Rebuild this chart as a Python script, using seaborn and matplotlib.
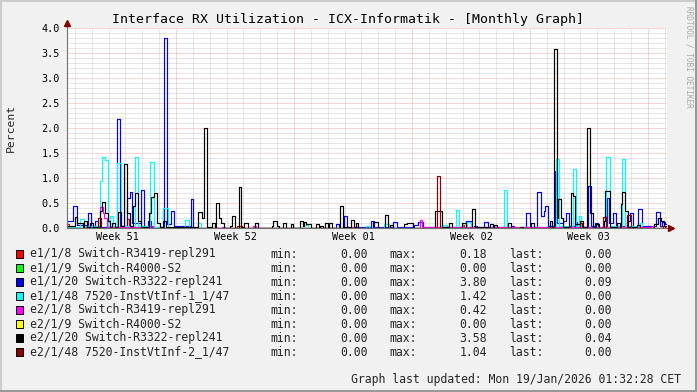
import numpy as np
import pandas as pd
import matplotlib
matplotlib.use("Agg")
import matplotlib.pyplot as plt
import seaborn as sns
from matplotlib.patches import Rectangle
from matplotlib.lines import Line2D

# ---------------- data (sample index, value); one sample = 1.424 h ----------------
STEP_H = 1.424
N_SAMPLES = 600
FIRST_WEEK_SAMPLE = 109
WEEK_LABELS = ["Week 51", "Week 52", "Week 01", "Week 02", "Week 03"]

NAMES = ["e1/1/8 Switch-R3419-repl291", "e1/1/9 Switch-R4000-S2",
         "e1/1/20 Switch-R3322-repl241", "e1/1/48 7520-InstVtInf-1_1/47",
         "e2/1/8 Switch-R3419-repl291", "e2/1/9 Switch-R4000-S2",
         "e2/1/20 Switch-R3322-repl241", "e2/1/48 7520-InstVtInf-2_1/47"]
COLORS = ["#FF0000", "#00FF00", "#0000FF", "#00FFFF",
          "#FF00FF", "#FFFF00", "#000000", "#8F0000"]
MINS = ["0.00"] * 8
MAXS = ["0.18", "0.00", "3.80", "1.42", "0.42", "0.00", "3.58", "1.04"]
LASTS = ["0.00", "0.00", "0.09", "0.00", "0.00", "0.00", "0.04", "0.00"]

RED = [(0, 0.08), (2, 0.0), (60, 0.18), (62, 0.0), (170, 0.04), (175, 0.0),
       (395, 0.06), (397, 0.0), (581, 0.05), (584, 0.0)]
GREEN = [(0, 0.0)]
BLUE = [(0, 0.15), (6, 0.45), (10, 0.06), (19, 0.02), (21, 0.3), (24, 0.02), (28, 0.15),
        (31, 0.02), (50, 2.18), (53, 0.05), (60, 0.6), (63, 0.73), (65, 0.1), (74, 0.76),
        (77, 0.05), (81, 0.15), (84, 0.03), (97, 3.8), (100, 0.08), (104, 0.35), (107, 0.05),
        (124, 0.58), (126, 0.0), (269, 0.08), (272, 0.0), (277, 0.25), (280, 0.02),
        (304, 0.15), (307, 0.02), (326, 0.12), (330, 0.02), (347, 0.07), (351, 0.12),
        (356, 0.02), (399, 0.15), (404, 0.02), (407, 0.05), (410, 0.0), (417, 0.12),
        (421, 0.02), (445, 0.05), (447, 0.0), (459, 0.3), (463, 0.03), (470, 0.72),
        (474, 0.25), (477, 0.35), (478, 0.45), (481, 0.05), (488, 1.15), (490, 0.1),
        (496, 0.15), (499, 0.3), (502, 0.05), (508, 0.12), (510, 0.02), (521, 0.85),
        (524, 0.05), (528, 0.1), (531, 0.02), (540, 0.6), (542, 0.1), (546, 0.3),
        (549, 0.05), (560, 0.15), (563, 0.3), (566, 0.03), (571, 0.38), (575, 0.05),
        (589, 0.33), (593, 0.05), (595, 0.12), (598, 0.09)]
CYAN = [(0, 0.03), (13, 0.18), (17, 0.05), (33, 0.94), (35, 1.42), (38, 1.37), (41, 0.05),
        (43, 0.25), (46, 0.03), (50, 1.3), (54, 0.04), (68, 1.42), (71, 0.05), (83, 1.33),
        (87, 0.03), (96, 0.4), (101, 0.02), (118, 0.16), (122, 0.02), (131, 0.1), (134, 0.0),
        (236, 0.06), (241, 0.0), (299, 0.04), (302, 0.0), (317, 0.08), (322, 0.0),
        (375, 0.06), (380, 0.0), (389, 0.36), (392, 0.02), (400, 0.12), (404, 0.0),
        (437, 0.76), (440, 0.02), (489, 1.38), (492, 0.05), (506, 1.18), (509, 0.05),
        (512, 0.25), (514, 0.03), (539, 1.42), (543, 0.05), (555, 1.38), (558, 0.05),
        (573, 0.1), (575, 0.0)]
MAGENTA = [(0, 0.0), (33, 0.42), (36, 0.3), (37, 0.2), (40, 0.02), (83, 0.05), (86, 0.0),
           (155, 0.03), (158, 0.0), (186, 0.05), (189, 0.0), (283, 0.02), (286, 0.0),
           (353, 0.16), (355, 0.02), (584, 0.04), (586, 0.0)]
YELLOW = [(0, 0.0)]
BLACK = [(0, 0.05), (8, 0.23), (10, 0.1), (16, 0.03), (17, 0.15), (20, 0.03), (23, 0.1),
         (26, 0.02), (33, 0.35), (35, 0.53), (38, 0.3), (41, 0.15), (43, 0.02), (45, 0.1),
         (48, 0.02), (51, 0.33), (54, 0.05), (57, 1.28), (60, 0.3), (63, 0.05), (66, 0.45),
         (68, 0.7), (71, 0.15), (74, 0.03), (82, 0.3), (84, 0.63), (87, 0.7), (90, 0.1),
         (93, 0.02), (96, 0.15), (99, 0.02), (131, 0.32), (135, 0.2), (137, 2.0), (140, 0.03),
         (145, 0.1), (148, 0.01), (149, 0.5), (152, 0.2), (154, 0.1), (157, 0.01), (163, 0.05),
         (165, 0.24), (168, 0.01), (172, 0.82), (174, 0.02), (177, 0.1), (181, 0.01),
         (188, 0.1), (191, 0.01), (205, 0.05), (206, 0.14), (210, 0.05), (212, 0.01),
         (216, 0.1), (219, 0.01), (224, 0.08), (226, 0.01), (233, 0.15), (236, 0.05),
         (237, 0.12), (239, 0.08), (244, 0.01), (249, 0.08), (252, 0.01), (253, 0.05),
         (256, 0.01), (258, 0.1), (261, 0.01), (262, 0.1), (265, 0.01), (273, 0.44),
         (276, 0.02), (284, 0.16), (287, 0.02), (289, 0.1), (291, 0.01), (306, 0.12),
         (311, 0.01), (318, 0.26), (321, 0.01), (323, 0.06), (326, 0.01), (337, 0.08),
         (340, 0.1), (346, 0.01), (368, 0.34), (375, 0.03), (382, 0.1), (385, 0.01),
         (395, 0.1), (399, 0.01), (405, 0.38), (408, 0.02), (423, 0.08), (426, 0.01),
         (427, 0.06), (430, 0.01), (441, 0.1), (444, 0.01), (453, 0.03), (456, 0.01),
         (464, 0.1), (467, 0.01), (483, 0.15), (485, 0.02), (487, 3.58), (490, 0.2),
         (491, 0.58), (494, 0.2), (496, 0.03), (502, 0.05), (504, 0.7), (506, 0.64),
         (508, 0.08), (513, 0.15), (516, 0.02), (520, 2.0), (523, 0.3), (526, 0.03),
         (529, 0.08), (532, 0.01), (537, 0.15), (538, 0.75), (543, 0.03), (550, 0.1),
         (553, 0.02), (554, 0.48), (555, 0.72), (558, 0.35), (561, 0.03), (570, 0.06),
         (573, 0.01), (587, 0.08), (591, 0.2), (594, 0.14), (597, 0.04)]
DARKRED = [(0, 0.0), (31, 0.2), (34, 0.0), (370, 1.04), (373, 0.0), (513, 0.1), (515, 0.0),
           (536, 0.22), (539, 0.0), (560, 0.26), (564, 0.0), (596, 0.05), (598, 0.0)]

SERIES = [RED, GREEN, BLUE, CYAN, MAGENTA, YELLOW, BLACK, DARKRED]

# ---------------- styling ----------------
BACK = "#F1F1F1"
MINOR_GRID = "#CFCFCF"
MAJOR_GRID = "#F4A6A6"
AXIS_C = "#707070"
ARROW_C = "#7F0000"
MONO = "DejaVu Sans Mono"

sns.set_theme(style="white")
plt.rcParams["font.family"] = [MONO]

W, H = 697, 392
fig = plt.figure(figsize=(W / 100, H / 100), dpi=100, facecolor=BACK)
ax = fig.add_axes([67 / W, 1 - 228 / H, 600 / W, 200 / H])
ax.set_facecolor("white")

to_day = STEP_H / 24.0
rows = []
for name, pts in zip(NAMES, SERIES):
    pts = list(pts) + [(N_SAMPLES, pts[-1][1])]
    for s, v in pts:
        rows.append({"day": s * to_day, "value": v, "series": name})
df = pd.DataFrame(rows)

total_days = N_SAMPLES * to_day
ax.set_xlim(0, total_days)
ax.set_ylim(0, 4.0)

# grid (dotted, rrdtool-like)
dots = (0, (1, 1))
for k in range(1, 41):
    y = k * 0.1
    major = (k % 5 == 0)
    ax.axhline(y, color=MAJOR_GRID if major else MINOR_GRID, lw=0.72, ls=dots, zorder=1)
week0 = FIRST_WEEK_SAMPLE * to_day
d = week0 - np.floor(week0)
i = 0
while d < total_days:
    major = abs(((d - week0) / 7.0) - round((d - week0) / 7.0)) < 1e-6
    ax.axvline(d, color=MAJOR_GRID if major else MINOR_GRID, lw=0.72, ls=dots, zorder=1)
    d += 1.0

sns.lineplot(data=df, x="day", y="value", hue="series", hue_order=NAMES,
             palette=dict(zip(NAMES, COLORS)), drawstyle="steps-post",
             linewidth=0.85, estimator=None, sort=False, legend=False, ax=ax, zorder=3)

for sp in ax.spines.values():
    sp.set_visible(False)
ax.set_xlabel("")
ax.set_ylabel("")

# axes lines with arrows
ax.plot([0, 0], [0, 1.025], transform=ax.transAxes, clip_on=False, color=AXIS_C, lw=0.8, zorder=4)
ax.plot([0, 1.01], [0, 0], transform=ax.transAxes, clip_on=False, color=AXIS_C, lw=0.8, zorder=2)
ax.plot([0], [1.025], transform=ax.transAxes, clip_on=False, marker="^", ms=4.2,
        color=ARROW_C, mec=ARROW_C, zorder=5)
ax.plot([1.007], [0], transform=ax.transAxes, clip_on=False, marker=">", ms=4.2,
        color=ARROW_C, mec=ARROW_C, zorder=5)

yt = [k * 0.5 for k in range(9)]
ax.set_yticks(yt)
ax.set_yticklabels([f"{v:.1f}" for v in yt])
label_days = [week0 - 3.5 + 7 * k for k in range(len(WEEK_LABELS))]
ax.set_xticks(label_days)
ax.set_xticklabels(WEEK_LABELS)
ax.tick_params(axis="y", length=0, pad=5, labelsize=7.3, colors="#000000")
ax.tick_params(axis="x", length=0, pad=3, labelsize=7.3, colors="#000000")
for lab in ax.get_xticklabels() + ax.get_yticklabels():
    lab.set_family(MONO)


def fx(px):
    return px / W


def fy(py):
    return 1 - py / H


fig.text(fx(348.5), fy(19), "Interface RX Utilization - ICX-Informatik - [Monthly Graph]",
         ha="center", va="center", fontsize=9.5, family=MONO, color="#000000")
fig.text(fx(11), fy(128), "Percent", rotation=90, ha="center", va="center",
         fontsize=8.2, family=MONO)
fig.text(fx(688.5), fy(6), "RRDTOOL / TOBI OETIKER", rotation=270, ha="center", va="top",
         fontsize=5.6, family=MONO, color="#A8A8A8")

# legend
LFS = 8.3
for i, (name, col) in enumerate(zip(NAMES, COLORS)):
    ry = 254 + 14 * i
    fig.add_artist(Rectangle((fx(15.5), fy(ry + 4)), 7 / W, 8 / H, transform=fig.transFigure,
                             facecolor=col, edgecolor="#000000", lw=0.7))
    fig.text(fx(30), fy(ry), name, ha="left", va="center", fontsize=LFS, family=MONO)
    fig.text(fx(270), fy(ry), "min:", ha="left", va="center", fontsize=LFS, family=MONO)
    fig.text(fx(368), fy(ry), MINS[i], ha="right", va="center", fontsize=LFS, family=MONO)
    fig.text(fx(389), fy(ry), "max:", ha="left", va="center", fontsize=LFS, family=MONO)
    fig.text(fx(487), fy(ry), MAXS[i], ha="right", va="center", fontsize=LFS, family=MONO)
    fig.text(fx(509), fy(ry), "last:", ha="left", va="center", fontsize=LFS, family=MONO)
    fig.text(fx(612), fy(ry), LASTS[i], ha="right", va="center", fontsize=LFS, family=MONO)

fig.text(fx(681), fy(379), "Graph last updated: Mon 19/Jan/2026 01:32:28 CET",
         ha="right", va="center", fontsize=LFS, family=MONO)

# 3d-ish frame
fig.add_artist(Line2D([0, 1], [1, 1], transform=fig.transFigure, color="#CBCBCB", lw=2.9))
fig.add_artist(Line2D([0, 0], [0, 1], transform=fig.transFigure, color="#CBCBCB", lw=2.9))
fig.add_artist(Line2D([0, 1], [0, 0], transform=fig.transFigure, color="#999999", lw=2.9))
fig.add_artist(Line2D([1, 1], [0, 1], transform=fig.transFigure, color="#999999", lw=2.9))

fig.savefig("out.png", dpi=100, facecolor=BACK)
